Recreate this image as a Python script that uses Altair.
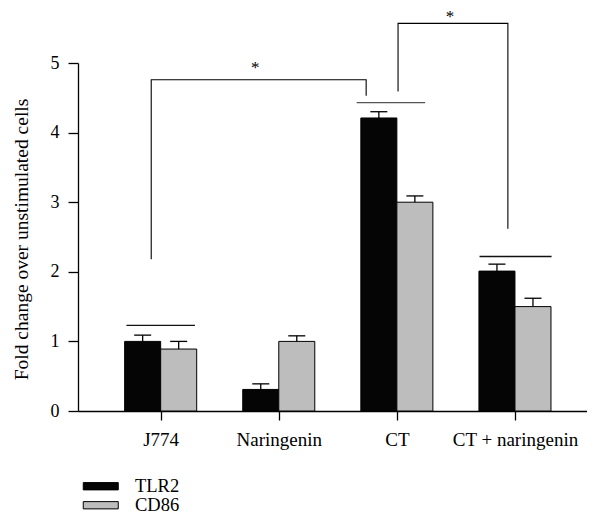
import json
import altair as alt
import pandas as pd

# ---- data ----
categories = ["J774", "Naringenin", "CT", "CT + naringenin"]
series = ["TLR2", "CD86"]
tlr2 = [1.0, 0.31, 4.21, 2.01]
tlr2_err = [0.09, 0.08, 0.09, 0.10]
cd86 = [0.89, 1.0, 3.0, 1.50]
cd86_err = [0.11, 0.08, 0.09, 0.12]

# horizontal lines drawn over groups (group index, y, left offset, right offset)
grp_idx = [0, 2, 3]
grp_y = [1.23, 4.43, 2.22]
grp_left = [-0.29, -0.34, -0.30]
grp_right = [0.29, 0.24, 0.31]

# significance brackets (points in data units)
br1_x = [-0.08, -0.08, 1.74, 1.74]
br1_y = [2.18, 4.76, 4.76, 4.53]
br2_x = [2.01, 2.01, 2.94, 2.94]
br2_y = [4.59, 5.57, 5.57, 2.62]
star_x = [0.80, 2.45]
star_y = [5.05, 5.78]
star_txt = ["*", "*"]

BW = 0.305   # bar width in x units
CAP = 0.072  # half cap width
FONT = "Liberation Serif"

rows = []
for i, c in enumerate(categories):
    for s, vals, errs, off in (("TLR2", tlr2, tlr2_err, -BW), ("CD86", cd86, cd86_err, 0.0)):
        x0 = i + off
        rows.append(dict(cat=c, series=s, x0=x0, x1=x0 + BW, xc=x0 + BW / 2,
                         v=vals[i], base=0.0, top=vals[i] + errs[i],
                         c0=x0 + BW / 2 - CAP, c1=x0 + BW / 2 + CAP))
bars = pd.DataFrame(rows)

grp = pd.DataFrame(dict(g=grp_idx,
                        x0=[i + l for i, l in zip(grp_idx, grp_left)],
                        x1=[i + r for i, r in zip(grp_idx, grp_right)], y=grp_y))

br = pd.DataFrame(dict(x=br1_x + br2_x, y=br1_y + br2_y,
                       b=["a"] * 4 + ["b"] * 4, o=list(range(4)) * 2))
stars = pd.DataFrame(dict(x=star_x, y=star_y, t=star_txt))

xscale = alt.Scale(domain=[-0.7, 3.61], nice=False, zero=False)
yscale = alt.Scale(domain=[0, 5], nice=False)

label_expr = json.dumps(categories) + "[datum.value]"

xaxis = alt.Axis(values=[0, 1, 2, 3], labelExpr=label_expr, title=None, grid=False,
                 tickSize=9, labelPadding=10, labelFont=FONT, labelFontSize=19,
                 labelColor="black", domainColor="black", tickColor="black",
                 domainWidth=1.3, tickWidth=1.3, labelOverlap=False, labelFlush=False)
yaxis = alt.Axis(values=[i * 0.5 for i in range(11)],
                 labelExpr="datum.value % 1 === 0 ? format(datum.value, 'd') : ''",
                 title="Fold change over unstimulated cells", grid=False,
                 tickSize=10, labelPadding=9, labelFont=FONT, labelFontSize=18,
                 labelColor="black", domainColor="black", tickColor="black",
                 domainWidth=1.3, tickWidth=1.3, titleFont=FONT, titleFontSize=19.5,
                 titleFontWeight="normal", titleColor="black", titleX=-57, titleY=176,
                 titleAlign="center", titleBaseline="middle", labelOverlap=False)

base = alt.Chart(bars)

bar_layer = base.mark_rect(stroke="black", strokeWidth=1).encode(
    x=alt.X("x0:Q", scale=xscale, axis=xaxis),
    x2="x1:Q",
    y=alt.Y("v:Q", scale=yscale, axis=yaxis),
    y2="base:Q",
    color=alt.Color("series:N",
                    scale=alt.Scale(domain=series, range=["#050505", "#bdbdbd"]),
                    legend=alt.Legend(orient="none", legendX=13.5, legendY=414, title=None,
                                      symbolType="M-2.5,-0.52H2.5V0.52H-2.5Z", symbolSize=196,
                                      symbolStrokeColor="black", symbolStrokeWidth=1,
                                      symbolOpacity=1, labelFont=FONT, labelFontSize=18.5,
                                      labelColor="black", labelOffset=25, rowPadding=0,
                                      padding=0)),
)

err_v = base.mark_rule(color="black", strokeWidth=1.3).encode(
    x="xc:Q", y="v:Q", y2="top:Q")
err_cap = base.mark_rule(color="black", strokeWidth=1.3).encode(
    x="c0:Q", x2="c1:Q", y="top:Q")

grp_layer = alt.Chart(grp).mark_rule(strokeWidth=1.4).encode(
    x="x0:Q", x2="x1:Q", y="y:Q",
    color=alt.condition(alt.datum.g == 2, alt.value("#555555"), alt.value("#111111")))

br_layer = alt.Chart(br).mark_line(color="black", strokeWidth=1.1, clip=False).encode(
    x="x:Q", y="y:Q", detail="b:N", order="o:Q")

star_layer = alt.Chart(stars).mark_text(font=FONT, fontSize=17, baseline="top",
                                        color="black").encode(
    x="x:Q", y="y:Q", text="t:N")

chart = alt.layer(bar_layer, err_v, err_cap, grp_layer, br_layer, star_layer).properties(
    width=509, height=348,
    padding={"left": 70, "top": 55, "right": 0, "bottom": 103},
    autosize=alt.AutoSizeParams(type="none"),
    background="white",
).configure_view(stroke=None)

chart.save("out.html", embed_options={"renderer": "svg", "actions": False})
